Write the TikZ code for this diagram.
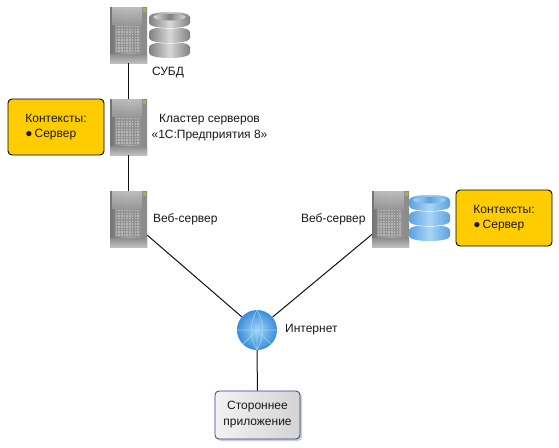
\documentclass[tikz,border=0pt]{standalone}
\usepackage{fontspec}
\setmainfont{Liberation Sans}
\usetikzlibrary{shadows}
\definecolor{ybox}{HTML}{FFCC00}
\definecolor{appedge}{HTML}{2F3F73}
\definecolor{link}{HTML}{111111}
\definecolor{diskblue}{HTML}{5CA2DE}
\definecolor{disklight}{HTML}{A8D5F5}
\definecolor{diskgray}{HTML}{808080}
\definecolor{diskpale}{HTML}{D8D8D8}
\definecolor{globein}{HTML}{A5D2F5}
\definecolor{globeout}{HTML}{3A8EDB}
\tikzset{
  x=1pt,y=-1pt,
  lbl/.style={font=\fontsize{12}{16}\selectfont,inner sep=0pt,text=black!90},
  yellowbox/.style={draw=black,line width=0.9pt,fill=ybox,rounded corners=4pt,minimum width=96pt,minimum height=56pt,inner sep=0pt,text=black!90,font=\fontsize{12}{15}\selectfont,align=left},
  appbox/.style={draw=appedge,line width=0.8pt,rounded corners=4pt,left color=white!90!gray,right color=black!17,minimum width=85pt,minimum height=48pt,inner sep=0pt,align=center,font=\fontsize{12}{16}\selectfont,text=black!90,drop shadow={shadow xshift=2pt,shadow yshift=-2pt,fill=appedge,opacity=.25}},
  serverbox/.style={minimum width=37pt,minimum height=56pt,inner sep=0pt},
  globebox/.style={circle,minimum size=40pt,inner sep=0pt},
  link/.style={draw=link,line width=1pt},
}
\newcommand{\serverat}[3]{%
  \node[serverbox] (#1) at (#2,#3) {};
  \begin{scope}[shift={(#2-18.5,#3-28)}]
    \shade[left color=black!55,right color=black!50,middle color=black!32] (0,0) rectangle (37,56);
    \shade[top color=black!25,bottom color=black!40,opacity=.9] (2,0) rectangle (32,17);
    \fill[black!45] (33,0) rectangle (37,56);
    \fill[black!42] (5,18) rectangle (30,46);
    \foreach \i in {0,...,8}{\foreach \j in {0,...,9}{
      \fill[white!72!black] (5.6+\i*2.7,18.8+\j*2.7) rectangle +(1.5,1.5);}}
    \fill[olive!55!yellow!80!gray] (32.5,1) rectangle (36,5);
    \shade[top color=black!45,bottom color=black!25] (0,47) rectangle (37,56);
  \end{scope}}
\newcommand{\diskat}[4]{% x y colours
  \begin{scope}[shift={(#1,#2)}]
    \foreach \yy in {30,15,0}{
      \draw[white,line width=1.2pt] (0,\yy+11) .. controls (0,\yy+17.7) and (41,\yy+17.7) .. (41,\yy+11);
      \shade[left color=#3,right color=#3,middle color=#4]
        (0,\yy+5) .. controls (0,\yy-1.7) and (41,\yy-1.7) .. (41,\yy+5) -- (41,\yy+11)
        .. controls (41,\yy+17.7) and (0,\yy+17.7) .. (0,\yy+11) -- cycle;
    }
    \shade[left color=#4,right color=#4,middle color=#3] (20.5,5) ellipse[x radius=16,y radius=3.4];
  \end{scope}}
\begin{document}
\begin{tikzpicture}
\useasboundingbox (0,0) rectangle (559,447);
\fill[white] (0,0) rectangle (559,447);
\serverat{dbs}{128.5}{35}
\serverat{cluster}{128.5}{127}
\serverat{webl}{128.5}{219}
\serverat{webr}{390.5}{219}
\diskat{149}{12}{diskgray}{diskpale}
\diskat{409}{195}{diskblue}{disklight}
\node[globebox] (net) at (257,330) {};
\shade[inner color=globein,outer color=globeout] (net.center) circle (20);
\draw[white!60!cyan,line width=.7pt,opacity=.8] (237,330) -- (277,330)
 (243,344) -- (257,330) -- (271,344) (257,350) -- (257,330) (257,350) to[bend right=30] (257,310) (257,350) to[bend left=30] (257,310);
\draw[link] (dbs) -- (cluster);
\draw[link] (cluster) -- (webl);
\draw[link] (webl) -- (net);
\draw[link] (webr) -- (net);
\node[appbox] (app) at (257.5,415) {Стороннее\\приложение};
\draw[link] (net) -- (app);
\node[yellowbox] (ctxl) at (56,127) {\begin{tabular}{@{}l@{}}Контексты:\\ {\fontsize{12}{12}\selectfont ●}\,Сервер\end{tabular}};
\node[yellowbox] (ctxr) at (504,218) {\raisebox{-1.5pt}{\begin{tabular}{@{}l@{}}Контексты:\\ {\fontsize{12}{12}\selectfont ●}\,Сервер\end{tabular}}};
\node[lbl] (t1) at (168,73) {СУБД};
\node[lbl,align=center] (t2) at (209.5,128) {Кластер серверов\\«1С:Предприятия 8»};
\node[lbl,anchor=west] (t3) at (153,219) {Веб-сервер};
\node[lbl,anchor=west] (t4) at (301,219) {Веб-сервер};
\node[lbl,anchor=west] (t5) at (285,330) {Интернет};
\end{tikzpicture}
\end{document}
